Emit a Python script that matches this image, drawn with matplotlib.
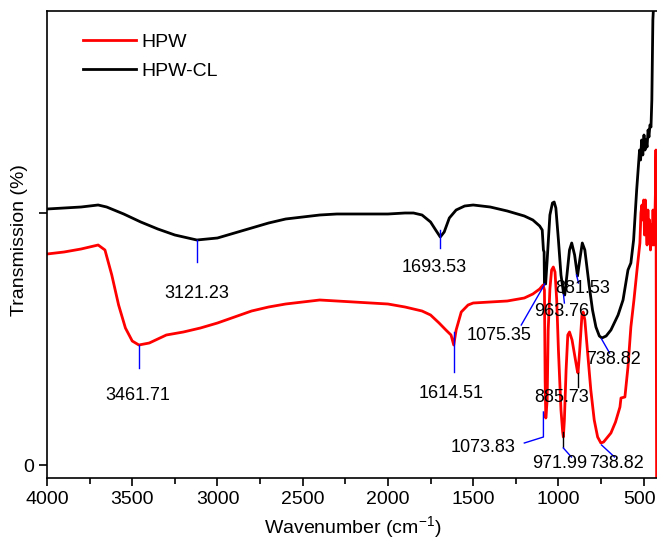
import matplotlib
matplotlib.use('Agg')
import matplotlib.pyplot as plt
import matplotlib.transforms as mtransforms
import numpy as np

plt.rcParams['font.family'] = ['Liberation Sans', 'DejaVu Sans']
plt.rcParams['mathtext.default'] = 'regular'

# HPW-CL (black)
wn_cl = [4000, 3900, 3800, 3700, 3650, 3550, 3450, 3350, 3250, 3121, 3000, 2900, 2800, 2700,
         2600, 2500, 2400, 2300, 2200, 2100, 2000, 1900, 1850, 1800, 1750, 1720, 1693, 1670,
         1640, 1600, 1550, 1500, 1400, 1300, 1200, 1150, 1110, 1095, 1088, 1084, 1082, 1075,
         1066, 1050, 1035, 1025, 1015, 1000, 985, 970, 963, 950, 935, 922, 905, 888, 875, 860,
         845, 820, 800, 780, 760, 745, 720, 692, 650, 621, 592, 575, 559, 541, 524,
         518, 512, 505, 498, 492, 487, 480, 474, 469, 463, 457, 452, 446, 440, 420, 410]
t_cl = [25.6, 25.7, 25.8, 26.0, 25.8, 25.1, 24.3, 23.6, 23.0, 22.5, 22.7, 23.2, 23.7, 24.2,
        24.6, 24.8, 25.0, 25.1, 25.1, 25.1, 25.1, 25.2, 25.2, 25.0, 24.3, 23.5, 22.8, 23.3,
        24.7, 25.5, 25.9, 26.0, 25.8, 25.4, 24.9, 24.5, 23.9, 23.5, 21.5, 21.3, 18.2, 18.1,
        20.5, 25.0, 26.2, 26.3, 25.7, 22.5, 19.0, 17.2, 17.0, 19.0, 21.5, 22.2, 21.0, 18.9, 20.5, 22.2,
        21.5, 18.0, 15.5, 13.8, 12.9, 12.7, 12.9, 13.5, 15.0, 16.5, 19.5, 20.2, 22.5, 27.5, 31.5,
        30.5, 32.5, 31.0, 33.0, 31.5, 32.5, 31.8, 33.5, 32.8, 34.0, 33.8, 36.5, 44.5, 46.5, 46.5, 46.5]

# HPW (red)
wn_hpw = [4000, 3900, 3800, 3700, 3660, 3620, 3580, 3540, 3500, 3461, 3400, 3350, 3300, 3200,
          3100, 3000, 2900, 2800, 2700, 2600, 2500, 2400, 2300, 2200, 2100, 2000, 1900, 1800,
          1750, 1700, 1660, 1630, 1614, 1600, 1570, 1530, 1500, 1400, 1300, 1200, 1150, 1110,
          1090, 1082, 1078, 1074, 1066, 1060, 1050, 1040, 1030, 1020, 1010, 1000, 985, 975, 971,
          965, 955, 945, 935, 920, 905, 890, 885, 875, 862, 855, 845, 830, 810, 790, 770, 751,
          735, 692, 665, 639, 633, 610, 592, 575, 557, 539, 522, 516, 510, 505, 500, 495, 490,
          485, 480, 475, 470, 465, 460, 455, 450, 445, 440, 435, 430, 428, 424]
t_hpw = [21.1, 21.3, 21.6, 22.0, 21.5, 19.0, 16.0, 13.7, 12.4, 12.0, 12.2, 12.6, 13.0, 13.3,
         13.7, 14.2, 14.8, 15.4, 15.8, 16.1, 16.3, 16.5, 16.4, 16.3, 16.2, 16.1, 15.8, 15.4,
         15.0, 14.2, 13.5, 13.0, 12.0, 13.5, 15.3, 16.0, 16.2, 16.3, 16.4, 16.7, 17.1, 17.6,
         18.0, 17.5, 8.5, 4.7, 6.5, 13.5, 17.6, 19.5, 19.8, 19.3, 16.5, 11.5, 5.5, 3.3, 2.8,
         4.5, 9.5, 13.0, 13.3, 12.5, 11.0, 9.5, 9.2, 11.5, 15.0, 15.3, 14.5, 11.5, 7.5, 4.5, 2.8, 2.2,
         2.3, 3.2, 4.3, 5.8, 6.7, 6.8, 9.8, 13.8, 16.5, 19.5, 22.2, 25.2, 26.0, 24.5, 26.5, 23.0, 26.5,
         24.0, 22.0, 25.5, 22.5, 24.5, 21.5, 24.0, 22.0, 25.5, 22.0, 24.0, 28.0, 31.5, -1.3]

# peak labels: text, text position, leader line (x list, y list), line colour
peak_labels = [
    ('3121.23', (3121, 17.1), ([3121, 3121], [22.5, 20.3]), 'b'),
    ('1693.53', (1730, 19.8), ([1693, 1693], [23.5, 21.7]), 'b'),
    ('3461.71', (3470, 6.9), ([3461, 3461], [12.0, 9.7]), 'b'),
    ('1614.51', (1629, 7.2), ([1614, 1614], [13.3, 9.3]), 'b'),
    ('1075.35', (1347, 12.9), ([1218, 1080], [14.0, 18.1]), 'b'),
    ('963.76', (982, 15.3), ([970, 965], [17.0, 16.2]), 'b'),
    ('881.53', (859, 17.6), ([894, 882], [19.0, 18.2]), 'b'),
    ('738.82', (676, 10.5), ([747, 700], [12.6, 11.2]), 'b'),
    ('885.73', (982, 6.7), ([888, 888], [9.2, 7.8]), 'k'),
    ('1073.83', (1441, 1.7), ([1088, 1088, 1200], [5.3, 2.8, 2.2]), 'b'),
    ('971.99', (994, 0.2), ([976, 976], [3.3, 1.8]), 'k'),
    ('', (0, 0), ([971, 924], [1.7, 0.8]), 'b'),
    ('738.82', (659, 0.2), ([747, 671], [2.0, 0.8]), 'b'),
]

fig = plt.figure(figsize=(6.57, 5.39), dpi=100)
ax = fig.add_axes([47/657, 61/539, 612/657, 467/539])

ax.plot(wn_hpw, t_hpw, color='red', lw=2, label='HPW')
ax.plot(wn_cl, t_cl, color='black', lw=2, label='HPW-CL')

for txt, (tx, ty), (lx, ly), c in peak_labels:
    ax.plot(lx, ly, color=c, lw=1)
    if txt:
        ax.text(tx, ty, txt, ha='center', va='center', fontsize=13)

ax.set_xlim(4000, 410)
ax.set_ylim(-1.3, 45.4)
ax.set_xticks([4000, 3500, 3000, 2500, 2000, 1500, 1000, 500])
ax.set_xticks(np.arange(3750, 400, -500), minor=True)
ax.set_yticks([0, 25.2])
ax.set_yticklabels(['0', ''])
ax.tick_params(axis='both', which='major', direction='out', length=6, width=1.2, labelsize=14)
ax.tick_params(axis='x', which='minor', direction='out', length=4, width=1.2)
ax.spines['right'].set_visible(False)
for s in ['left', 'bottom', 'top']:
    ax.spines[s].set_linewidth(1.2)

ax.set_xlabel('Wavenumber (cm$^{-1}$)', fontsize=14)
ax.set_ylabel('Transmission (%)', fontsize=14)
ax.yaxis.set_label_coords(-0.031, 0.51)

ax.legend(loc='upper left', bbox_to_anchor=(0.059, 0.952), frameon=False, fontsize=14,
          handlelength=2.7, handletextpad=0.3, labelspacing=0.6, borderpad=0, borderaxespad=0)

# keep the last tick label ("500") inside the figure edge
fig.canvas.draw()
lab = ax.xaxis.get_major_ticks()[-1].label1
lab.set_transform(lab.get_transform() + mtransforms.ScaledTranslation(-4/100, 0, fig.dpi_scale_trans))

plt.savefig('out.png', dpi=100)
